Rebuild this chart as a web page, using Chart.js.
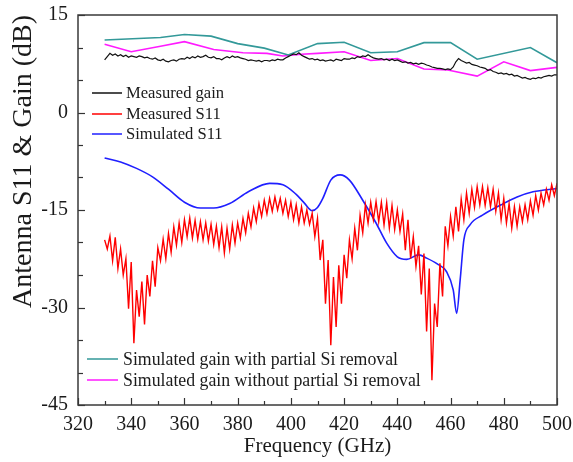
<!DOCTYPE html>
<html>
<head>
<meta charset="utf-8">
<script src="https://cdn.jsdelivr.net/npm/chart.js@4/dist/chart.umd.min.js"></script>
<style>
  html, body { margin: 0; padding: 0; background: #fff; }
  canvas { display: block; }
</style>
</head>
<body>
<canvas id="c" width="573" height="462"></canvas>
<script>
// Sweep frequencies (GHz) for the measured traces
const sweepGHz = [
  330,331,332,333,334,335,336,337,338,339,340,341,342,343,344,345,346,347,348,349,
  350,351,352,353,354,355,356,357,358,359,360,361,362,363,364,365,366,367,368,369,
  370,371,372,373,374,375,376,377,378,379,380,381,382,383,384,385,386,387,388,389,
  390,391,392,393,394,395,396,397,398,399,400,401,402,403,404,405,406,407,408,409,
  410,411,412,413,414,415,416,417,418,419,420,421,422,423,424,425,426,427,428,429,
  430,431,432,433,434,435,436,437,438,439,440,441,442,443,444,445,446,447,448,449,
  450,451,452,453,454,455,456,457,458,459,460,461,462,463,464,465,466,467,468,469,
  470,471,472,473,474,475,476,477,478,479,480,481,482,483,484,485,486,487,488,489,
  490,491,492,493,494,495,496,497,498,499,500
];

// Measured gain (dB)
const measuredGain = [
  8.1,8.6,9.1,8.8,9.0,8.7,8.9,8.6,8.8,8.5,8.7,8.6,8.5,8.7,8.6,8.4,8.5,8.3,8.2,8.4,
  8.1,8.0,8.2,7.9,7.8,8.0,8.1,7.9,8.2,8.3,8.2,8.5,8.3,8.6,8.4,8.7,8.5,8.6,8.8,8.5,
  8.4,8.6,8.3,8.3,8.1,8.4,8.6,8.4,8.7,8.5,8.6,8.4,8.3,8.2,8.0,8.1,8.0,7.9,8.0,7.8,
  8.0,8.0,7.9,8.1,8.0,8.2,8.1,8.1,8.4,8.6,8.8,9.0,8.9,9.2,8.8,8.6,8.4,8.2,8.3,8.1,
  8.2,8.0,8.1,7.9,8.0,8.1,7.9,8.2,8.1,8.0,8.3,8.2,8.2,8.4,8.3,8.6,8.5,8.7,8.6,8.9,
  8.6,8.4,8.3,8.2,8.3,8.1,8.2,8.0,8.2,8.0,8.1,7.9,7.7,7.8,7.6,7.7,7.5,7.6,7.4,7.6,
  7.5,7.3,7.2,7.0,6.9,6.8,6.8,6.7,6.6,6.7,6.6,7.0,7.8,8.3,8.0,7.8,7.6,7.7,7.4,7.3,
  7.2,7.0,6.9,6.8,6.5,6.6,6.3,6.2,6.0,6.1,5.9,6.0,5.8,5.9,5.6,5.7,5.5,5.3,5.4,5.2,
  5.1,5.3,5.2,5.4,5.3,5.5,5.6,5.7,5.6,5.8,5.8
];

// Measured S11 (dB)
const measuredS11 = [
  -19.6,-21.0,-19.0,-22.8,-19.2,-24.0,-21.0,-25.0,-22.5,-30.2,-23.0,-35.5,-27.3,-31.4,-26.0,-32.6,-25.0,-28.3,-22.8,-26.8,
  -20.8,-22.8,-19.5,-22.5,-18.6,-21.5,-17.6,-20.4,-17.0,-20.0,-16.5,-19.1,-16.2,-19.3,-16.6,-19.5,-16.8,-19.6,-17.0,-19.8,
  -17.2,-20.3,-17.5,-20.8,-17.6,-21.6,-17.8,-21.0,-17.3,-20.1,-17.0,-19.3,-16.3,-18.5,-15.5,-17.6,-14.7,-16.8,-14.0,-16.0,
  -13.5,-15.6,-13.2,-15.2,-13.0,-15.0,-13.2,-15.5,-13.5,-16.0,-13.8,-16.5,-14.2,-17.0,-14.5,-17.0,-15.0,-17.2,-15.5,-19.1,
  -16.3,-22.7,-19.6,-29.4,-22.7,-35.8,-25.3,-33.0,-23.5,-29.4,-21.9,-25.5,-19.6,-22.5,-17.8,-21.2,-15.8,-18.5,-14.2,-17.0,
  -13.8,-16.5,-13.7,-16.8,-13.8,-17.3,-13.9,-17.8,-14.3,-18.0,-15.0,-18.3,-15.6,-21.2,-16.5,-22.5,-19.1,-23.7,-20.5,-28.0,
  -21.7,-33.7,-24.0,-41.2,-29.4,-33.0,-23.2,-28.3,-17.5,-20.5,-16.0,-19.0,-14.5,-18.3,-13.3,-16.5,-12.4,-15.5,-11.8,-14.6,
  -11.4,-14.2,-11.4,-14.3,-11.6,-14.5,-11.8,-15.2,-12.4,-16.5,-13.2,-17.0,-14.0,-17.8,-14.5,-17.5,-14.5,-16.8,-14.2,-16.5,
  -13.6,-15.8,-12.8,-15.0,-12.4,-14.2,-11.8,-13.5,-11.1,-12.8,-10.9
];

// Simulated S11
const simS11Freq = [330,336,342,348,354,360,366,371,377,384,392,397,402,405,408,410,412,415,418.5,422,427,432,436,440,443.5,448,451,455,458.5,461,462.3,463.6,465,467.3,472,479,485,491,500];
const simS11 = [-7.0,-7.6,-8.6,-9.9,-11.8,-13.8,-14.7,-14.7,-14.0,-12.2,-10.9,-11.1,-12.6,-13.9,-15.1,-14.6,-13.2,-10.4,-9.6,-10.4,-13.5,-17.0,-20.1,-22.2,-22.6,-21.9,-22.4,-23.3,-24.5,-27.3,-30.9,-25.8,-19.6,-17.3,-15.8,-14.2,-13.0,-12.2,-11.7];

// Simulated gain with partial Si removal
const gainWithFreq = [330,351,360,370,380,390,399,410,420,430,440,450,460,470,490,500];
const gainWith = [11.15,11.55,12.0,11.75,10.6,9.9,8.85,10.6,10.8,9.2,9.35,10.75,10.75,8.2,10.0,7.65];

// Simulated gain without partial Si removal
const gainWithoutFreq = [330,340,351,360,371,382,391,397,404,410,420,430,440,450,459,470,480,490,500];
const gainWithout = [10.5,9.35,10.2,10.9,9.7,9.2,9.1,8.7,8.95,9.1,9.35,8.0,8.3,6.7,6.55,5.6,7.8,6.45,6.95];

const seriesNames = [
  'Measured gain',
  'Measured S11',
  'Simulated S11',
  'Simulated gain with partial Si removal',
  'Simulated gain without partial Si removal'
];

const xTicks = [320, 340, 360, 380, 400, 420, 440, 460, 480, 500];
const yTicks = [15, 0, -15, -30, -45];

const SERIF = '"Liberation Serif", "Times New Roman", serif';
const INK = '#1a1a1a';

const pairs = (xs, ys) => xs.map((x, i) => ({ x: x, y: ys[i] }));

// Inward tick marks, the plot frame and the two in-plot legend blocks
const framePlugin = {
  id: 'frame',
  afterDraw(chart) {
    const { ctx, chartArea: a, scales } = chart;
    ctx.save();
    ctx.strokeStyle = '#333';
    ctx.lineWidth = 1.2;
    // x ticks every 10 GHz, longer at labelled ones
    for (let v = 320; v <= 500; v += 10) {
      const px = Math.round(scales.x.getPixelForValue(v)) + 0.5;
      const len = xTicks.includes(v) ? 7 : 4;
      ctx.beginPath();
      ctx.moveTo(px, a.bottom);
      ctx.lineTo(px, a.bottom - len);
      ctx.stroke();
    }
    // y ticks every 5 dB
    for (let v = -45; v <= 15; v += 5) {
      const py = Math.round(scales.y.getPixelForValue(v)) + 0.5;
      const len = yTicks.includes(v) ? 7 : 5;
      ctx.beginPath();
      ctx.moveTo(a.left, py);
      ctx.lineTo(a.left + len, py);
      ctx.stroke();
    }
    // frame
    ctx.lineWidth = 1.5;
    ctx.strokeStyle = '#3a3a3a';
    ctx.strokeRect(a.left, a.top, a.right - a.left, a.bottom - a.top);

    // legends
    const ds = chart.data.datasets;
    ctx.fillStyle = INK;
    ctx.textBaseline = 'middle';
    ctx.textAlign = 'left';
    const block = (indices, x0, x1, tx, ys, size) => {
      ctx.font = size + 'px ' + SERIF;
      indices.forEach((di, k) => {
        ctx.strokeStyle = ds[di].borderColor;
        ctx.lineWidth = 1.5;
        ctx.beginPath();
        ctx.moveTo(x0, ys[k]);
        ctx.lineTo(x1, ys[k]);
        ctx.stroke();
        ctx.fillText(ds[di].label, tx, ys[k] + 1);
      });
    };
    block([0, 1, 2], 92, 122, 126, [93, 114, 134], 16.6);
    block([3, 4], 87, 118, 123, [359, 380], 17.8);
    ctx.restore();
  }
};

new Chart(document.getElementById('c'), {
  type: 'line',
  data: {
    datasets: [
      { label: seriesNames[0], data: pairs(sweepGHz, measuredGain), borderColor: '#111111', borderWidth: 1.2, tension: 0 },
      { label: seriesNames[1], data: pairs(sweepGHz, measuredS11), borderColor: '#ff0000', borderWidth: 1.4, tension: 0 },
      { label: seriesNames[2], data: pairs(simS11Freq, simS11), borderColor: '#1f1fff', borderWidth: 1.6, cubicInterpolationMode: 'monotone' },
      { label: seriesNames[3], data: pairs(gainWithFreq, gainWith), borderColor: '#339999', borderWidth: 1.6, tension: 0 },
      { label: seriesNames[4], data: pairs(gainWithoutFreq, gainWithout), borderColor: '#ff1aff', borderWidth: 1.6, tension: 0 }
    ]
  },
  options: {
    responsive: false,
    animation: false,
    events: [],
    layout: { padding: { top: 15, right: 16, left: 0, bottom: 0 } },
    elements: { point: { radius: 0 } },
    plugins: { legend: { display: false }, tooltip: { enabled: false } },
    scales: {
      x: {
        type: 'linear', min: 320, max: 500,
        afterBuildTicks: s => { s.ticks = xTicks.map(v => ({ value: v })); },
        ticks: { font: { family: SERIF, size: 20 }, color: INK, padding: 8, maxRotation: 0, autoSkip: false },
        grid: { display: false, drawTicks: false },
        border: { display: false },
        title: { display: true, text: 'Frequency (GHz)', font: { family: SERIF, size: 21 }, color: INK, padding: { top: 0, bottom: 3 } },
        afterFit: s => { s.height = 57; s.paddingLeft = 0; s.paddingRight = 0; }
      },
      y: {
        type: 'linear', min: -45, max: 15,
        afterBuildTicks: s => { s.ticks = yTicks.map(v => ({ value: v })); },
        ticks: { font: { family: SERIF, size: 20, lineHeight: 1 }, color: INK, padding: 10, autoSkip: false },
        grid: { display: false, drawTicks: false },
        border: { display: false },
        title: { display: true, text: 'Antenna S11 & Gain (dB)', align: 'end', font: { family: SERIF, size: 28 }, color: INK, padding: { top: 7, bottom: 0 } },
        afterFit: s => { s.width = 78; s.paddingTop = 0; s.paddingBottom = 0; }
      }
    }
  },
  plugins: [framePlugin]
});
</script>
</body>
</html>
